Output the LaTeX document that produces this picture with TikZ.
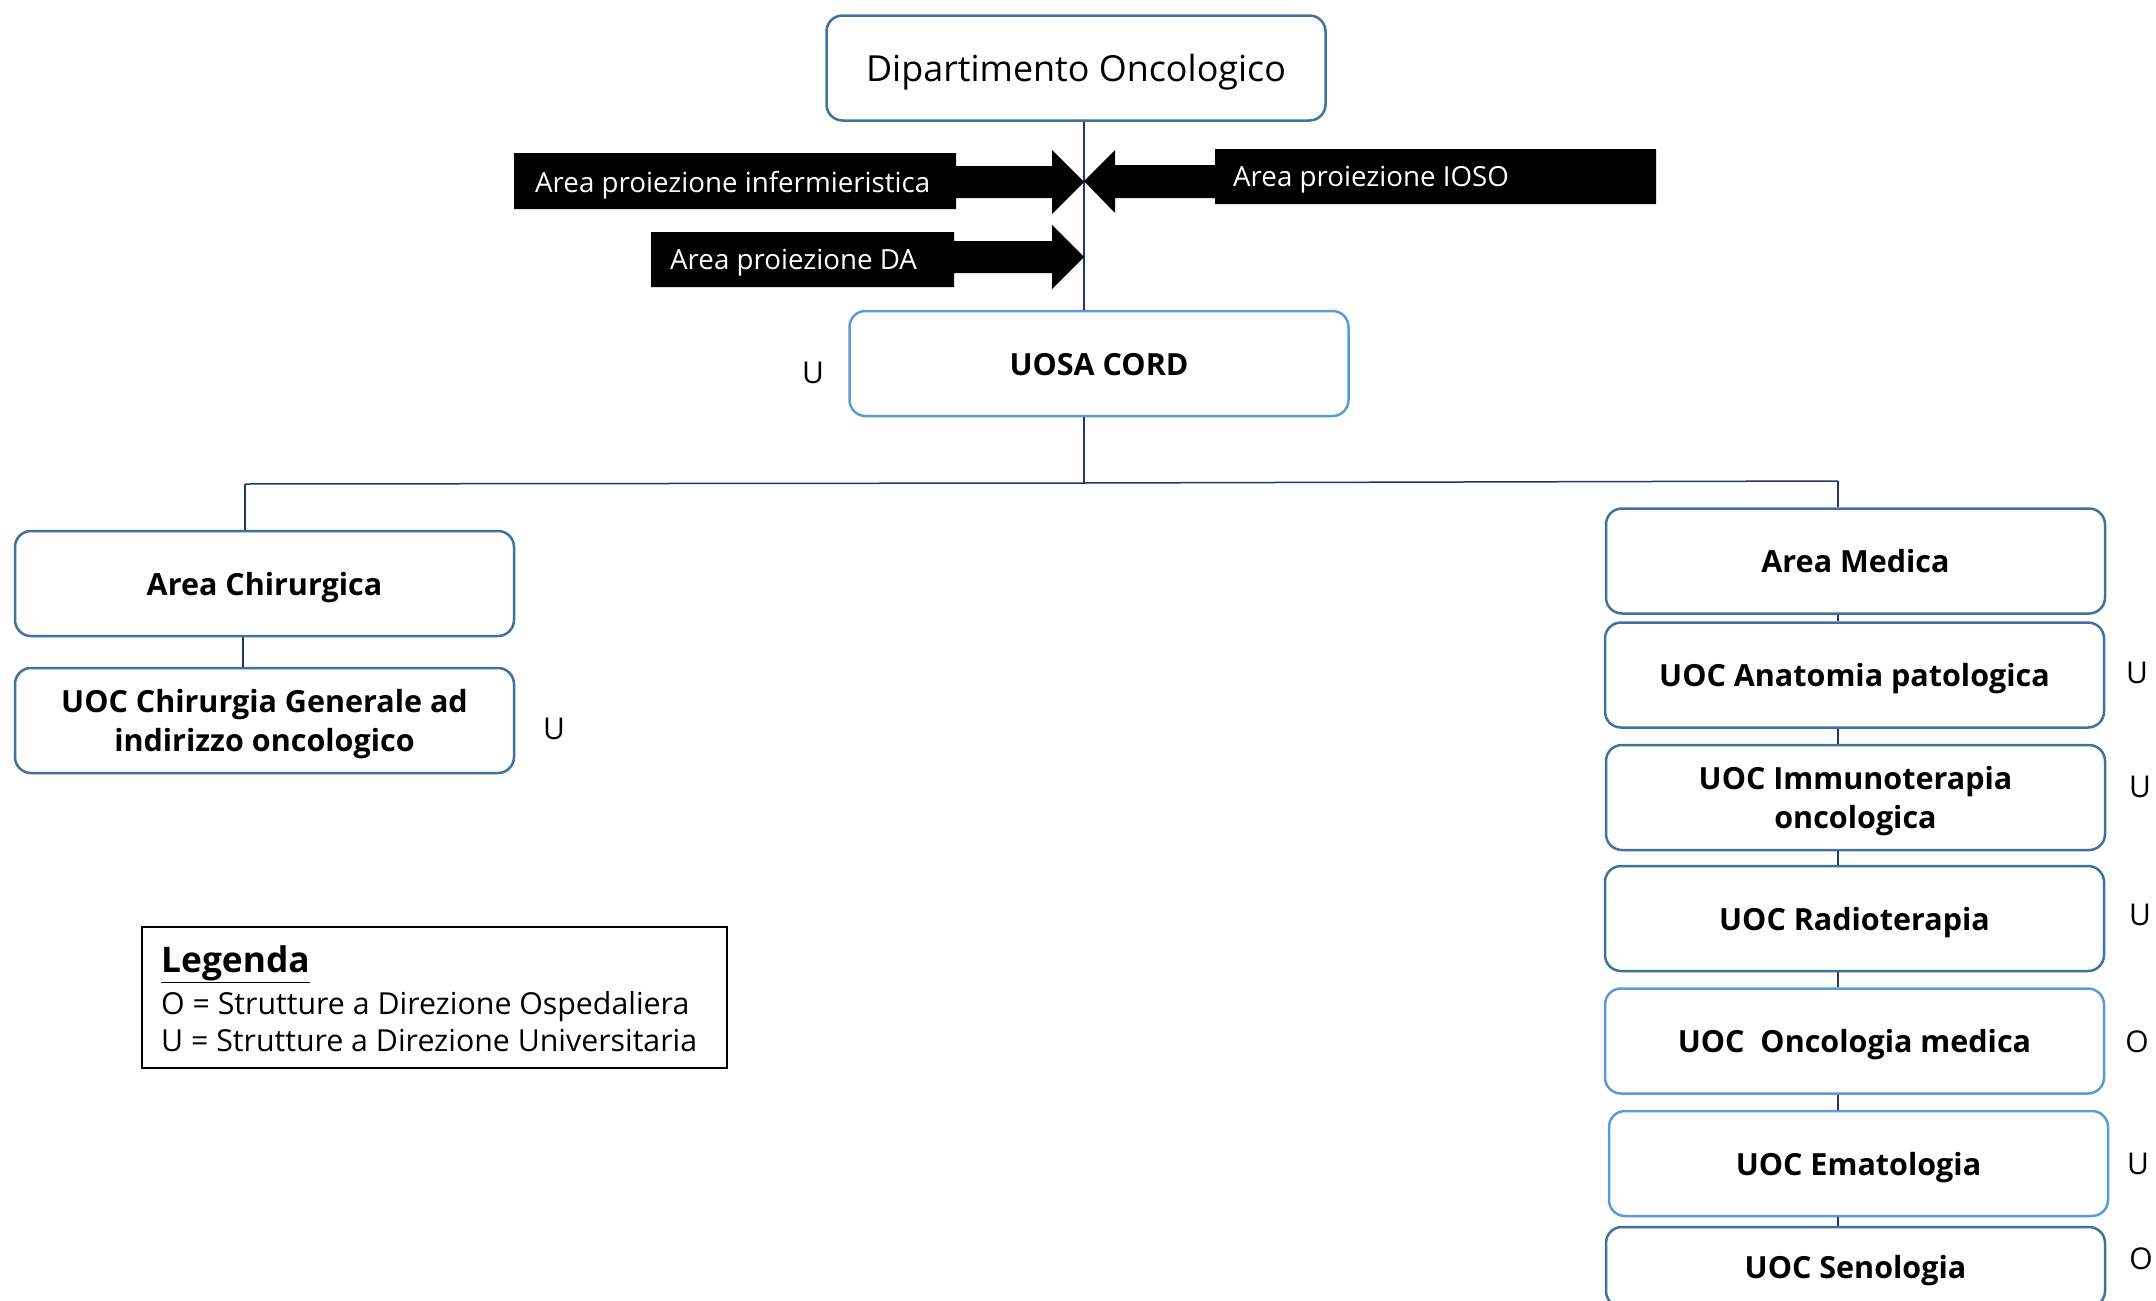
\documentclass[tikz,border=0pt]{standalone}
\usepackage{fontspec}
\setmainfont{Open Sans}
\definecolor{bdark}{RGB}{65,113,156}
\definecolor{blight}{RGB}{91,155,213}
\definecolor{conn}{RGB}{32,56,100}
\begin{document}
\begin{tikzpicture}[x=1pt,y=-1pt,
  box/.style={draw=bdark, line width=2.5pt, rounded corners=16pt, minimum width=499pt, minimum height=105pt, align=center, inner sep=0pt, fill=white, font=\fontsize{30.5}{38.5}\selectfont\bfseries, text height=31pt, text depth=8pt},
  twoline/.style={text height=69.5pt, text depth=8pt},
  boxl/.style={box, draw=blight},
  tag/.style={font=\fontsize{30}{36}\selectfont, inner sep=0pt},
  link/.style={draw=conn, line width=1.5pt},
  arrowfill/.style={fill=black, draw=none},
  atxt/.style={font=\fontsize{27.7}{33}\selectfont, text=white, anchor=west, inner sep=0pt},
  legtxt/.style={font=\fontsize{30.3}{35}\selectfont, anchor=base west, inner sep=0pt}
]
\useasboundingbox (0,0) rectangle (2156,1301);
\clip (0,0) rectangle (2156,1301);

% boxes
\node[box, font=\fontsize{35.9}{42}\selectfont, text height=35pt, text depth=8.5pt] (dip) at (1076,68) {Dipartimento Oncologico};
\node[boxl] (uosa) at (1099,363.5) {UOSA CORD};
\node[box] (achir) at (264.5,583.5) {Area Chirurgica};
\node[box, twoline] (uocchir) at (264.5,720.5) {UOC Chirurgia Generale ad\\indirizzo oncologico};
\node[box] (amed) at (1855.5,561) {Area Medica};
\node[box] (anat) at (1854.5,675) {UOC Anatomia patologica};
\node[box, twoline] (immu) at (1855.5,797.5) {UOC Immunoterapia\\oncologica};
\node[box] (radio) at (1854.5,918.5) {UOC Radioterapia};
\node[boxl] (onco) at (1854.5,1041) {UOC~~Oncologia medica};
\node[boxl] (emat) at (1858.5,1163.5) {UOC Ematologia};
\node[box, minimum height=80pt] (seno) at (1855.5,1267) {UOC Senologia};

% tags
\node[tag] (tuosa) at (813,373) {U};
\node[tag] (tchir) at (554,729) {U};
\node[tag] (tanat) at (2137,673) {U};
\node[tag] (timmu) at (2140,787) {U};
\node[tag] (tradio) at (2140,915) {U};
\node[tag] (tonco) at (2137,1042) {O};
\node[tag] (temat) at (2138,1164) {U};
\node[tag] (tseno) at (2141,1259) {O};

% connectors
\coordinate (spine) at (1084,0);
\coordinate (cL) at (243,0);
\coordinate (jL) at (245,484);
\coordinate (jM) at (1084,483);
\coordinate (jR) at (1838,481);
\draw[link] (dip.south -| spine) -- (uosa.north -| spine);
\draw[link] (uosa.south -| spine) -- (jM);
\draw[link] (jL) -- (jM) -- (jR);
\draw[link] (jL) -- (achir.north -| jL);
\draw[link] (achir.south -| cL) -- (uocchir.north -| cL);
\draw[link] (jR) -- (amed.north -| jR);
\draw[link] (amed.south -| jR) -- (anat.north -| jR);
\draw[link] (anat.south -| jR) -- (immu.north -| jR);
\draw[link] (immu.south -| jR) -- (radio.north -| jR);
\draw[link] (radio.south -| jR) -- (onco.north -| jR);
\draw[link] (onco.south -| jR) -- (emat.north -| jR);
\draw[link] (emat.south -| jR) -- (seno.north -| jR);

% block arrows
\fill[arrowfill] (514,153) -- (956,153) -- (956,166) -- (1052,166) -- (1052,150) -- (1084,182) -- (1052,214) -- (1052,198) -- (956,198) -- (956,209) -- (514,209) -- cycle;
\fill[arrowfill] (1656,149) -- (1215,149) -- (1215,165) -- (1115,165) -- (1115,150) -- (1084,181) -- (1115,213) -- (1115,198) -- (1215,198) -- (1215,204) -- (1656,204) -- cycle;
\fill[arrowfill] (651,232) -- (954,232) -- (954,241) -- (1052,241) -- (1052,225) -- (1084,257) -- (1052,289) -- (1052,273) -- (954,273) -- (954,287) -- (651,287) -- cycle;
\node[atxt] (ainf) at (535,185) {Area proiezione infermieristica};
\node[atxt] (aioso) at (1233,180) {Area proiezione IOSO};
\node[atxt] (ada) at (670,263) {Area proiezione DA};

% legend
\node[draw=black, line width=1.5pt, minimum width=585pt, minimum height=141pt, inner sep=0pt] (leg) at (434.5,997.5) {};
\node[legtxt, font=\fontsize{35.3}{40}\selectfont\bfseries] (legt) at (161,972) {\underline{Legenda}};
\node[legtxt] (lego) at (161,1014) {O = Strutture a Direzione Ospedaliera};
\node[legtxt] (legu) at (161,1051) {U = Strutture a Direzione Universitaria};
\end{tikzpicture}
\end{document}
